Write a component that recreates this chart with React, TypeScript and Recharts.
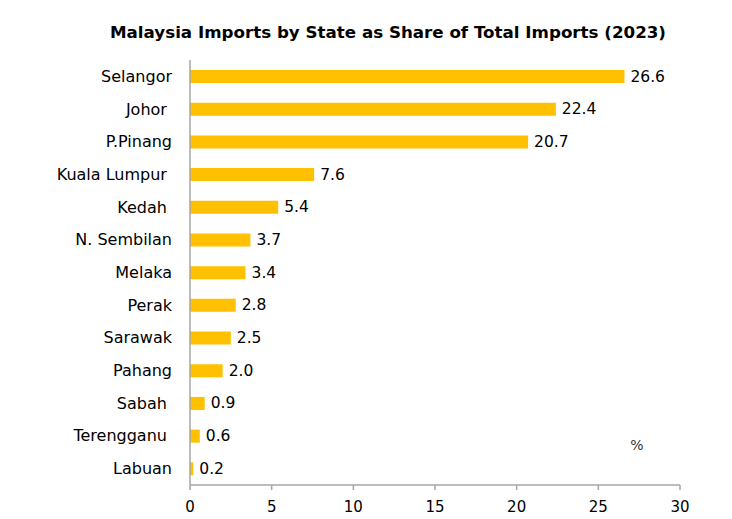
import React from "react";
import { BarChart, Bar, XAxis, YAxis, LabelList } from "recharts";

const states = [
  "Selangor",
  "Johor ",
  "P.Pinang",
  "Kuala Lumpur ",
  "Kedah ",
  "N. Sembilan",
  "Melaka",
  "Perak",
  "Sarawak",
  "Pahang",
  "Sabah ",
  "Terengganu ",
  "Labuan",
];
const shares = [26.6, 22.4, 20.7, 7.6, 5.4, 3.7, 3.4, 2.8, 2.5, 2.0, 0.9, 0.6, 0.2];
const xTicks = [0, 5, 10, 15, 20, 25, 30];
const title = "Malaysia Imports by State as Share of Total Imports (2023)";
const unitLabel = "%";

const data = states.map((s, i) => ({ state: s, value: shares[i] }));

const FONT = "'DejaVu Sans', sans-serif";

const CategoryTick = (props: any) => {
  const { x, y, payload } = props;
  return (
    <text
      x={x - 10}
      y={y}
      textAnchor="end"
      dominantBaseline="central"
      fontFamily={FONT}
      fontSize={16}
      fill="#000"
      xmlSpace="preserve"
      style={{ whiteSpace: "pre" }}
    >
      {payload.value}
    </text>
  );
};

const ValueLabel = (props: any) => {
  const { x, y, width, height, value } = props;
  return (
    <text
      x={x + width + 6}
      y={y + height / 2}
      dominantBaseline="central"
      fontFamily={FONT}
      fontSize={15.5}
      fill="#000"
    >
      {Number(value).toFixed(1)}
    </text>
  );
};

export default function App() {
  return (
    <div style={{ position: "absolute", left: 0, top: 0, width: 732, height: 519, background: "#fff" }}>
      <svg style={{ position: "absolute", left: 0, top: 0 }} width={732} height={60}>
        <text
          x={388}
          y={32}
          textAnchor="middle"
          dominantBaseline="central"
          fontFamily={FONT}
          fontWeight="bold"
          fontSize={16.7}
          fill="#000"
        >
          {title}
        </text>
      </svg>
      <div style={{ position: "absolute", left: 0, top: 0 }}>
        <BarChart
          width={732}
          height={519}
          data={data}
          layout="vertical"
          margin={{ top: 60, right: 52, bottom: 4, left: 0 }}
          barCategoryGap={0}
        >
          <XAxis
            type="number"
            domain={[0, 30]}
            ticks={xTicks}
            interval={0}
            axisLine={{ stroke: "#A6A6A6", strokeWidth: 1.5 }}
            tickLine={{ stroke: "#A6A6A6", strokeWidth: 1.5 }}
            tickSize={5}
            height={30}
            tick={{ fontFamily: FONT, fontSize: 15, fill: "#000" }}
            tickMargin={11}
          />
          <YAxis
            type="category"
            dataKey="state"
            width={190}
            axisLine={{ stroke: "#A6A6A6", strokeWidth: 1.5 }}
            tickLine={false}
            tick={<CategoryTick />}
            interval={0}
          />
          <Bar dataKey="value" fill="#FFC000" barSize={13} isAnimationActive={false}>
            <LabelList dataKey="value" content={<ValueLabel />} />
          </Bar>
        </BarChart>
      </div>
      <svg style={{ position: "absolute", left: 0, top: 0, pointerEvents: "none" }} width={732} height={519}>
        <text x={637} y={445} textAnchor="middle" dominantBaseline="central" fontFamily={FONT} fontSize={14} fill="#333">
          {unitLabel}
        </text>
      </svg>
    </div>
  );
}
